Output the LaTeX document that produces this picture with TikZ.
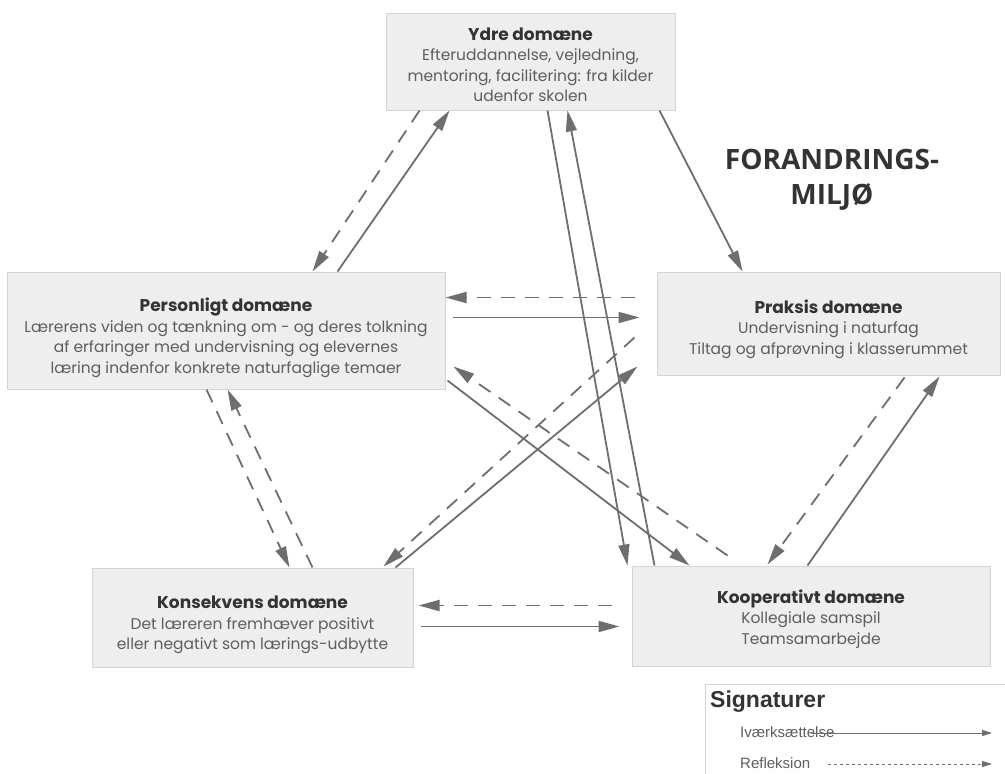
\documentclass[tikz,border=0pt]{standalone}
\usepackage{fontspec}
\setmainfont{Poppins}
\newfontfamily\legendfont{Liberation Sans}
\newfontfamily\bigtitlefont{Open Sans}
\usetikzlibrary{arrows.meta,calc}
\definecolor{boxfill}{HTML}{EEEEEE}
\definecolor{boxline}{HTML}{D4D4D4}
\definecolor{arr}{HTML}{6E6E6E}
\definecolor{ttl}{HTML}{333333}
\definecolor{bdy}{HTML}{5E5E5E}
\newcommand\domtitle[1]{{\fontsize{17}{20.5}\selectfont\bfseries\color{ttl}#1}}
\begin{document}
\begin{tikzpicture}[x=1pt,y=-1pt,
  dombox/.style={draw=boxline, fill=boxfill, line width=1pt, inner sep=0pt, anchor=center},
  domtext/.style={align=center, font=\fontsize{15.5}{20.5}\selectfont, text=bdy, inner sep=0pt},
  impl/.style={draw=arr, line width=1.8pt, -{Triangle[length=21pt,width=11pt]}},
  refl/.style={impl, dash pattern=on 14pt off 10pt},
  legline/.style={draw=arr, line width=1pt, -{Triangle[length=10pt,width=6pt]}},
]
\useasboundingbox (0,0) rectangle (1005,774);
\clip (0,0) rectangle (1005,774);

% domain boxes
\node[dombox, minimum width=289pt, minimum height=97pt] (ydre) at (530.5,61.5) {};
\node[dombox, minimum width=438pt, minimum height=117pt] (pers) at (226,330.5) {};
\node[dombox, minimum width=343pt, minimum height=103pt] (prak) at (828.5,323.5) {};
\node[dombox, minimum width=321pt, minimum height=99pt] (kons) at (252.5,617.5) {};
\node[dombox, minimum width=358pt, minimum height=100pt] (koop) at (811,616) {};

% texts
\node[domtext] (ydreT) at (530.5,65) {\domtitle{Ydre domæne}\\Efteruddannelse, vejledning,\\mentoring, facilitering: fra kilder\\udenfor skolen};
\node[domtext] (persT) at (226,338) {\domtitle{Personligt domæne}\\Lærerens viden og tænkning om - og deres tolkning\\af erfaringer med undervisning og elevernes\\læring indenfor konkrete naturfaglige temaer};
\node[domtext] (prakT) at (828.5,329) {\domtitle{Praksis domæne}\\Undervisning i naturfag\\Tiltag og afprøvning i klasserummet};
\node[domtext] (konsT) at (252.5,625) {\domtitle{Konsekvens domæne}\\Det læreren fremhæver positivt\\eller negativt som lærings-udbytte};
\node[domtext] (koopT) at (811,619) {\domtitle{Kooperativt domæne}\\Kollegiale samspil\\Teamsamarbejde};

% big title
\node[align=center, font=\bigtitlefont\bfseries\fontsize{28}{35}\selectfont, text=ttl, inner sep=0pt] (forandr) at (832,180) {FORANDRINGS-\\MILJØ};

% connectors
\draw[refl] ($(ydre.south west)+(34,0)$) -- ($(pers.north west)+(306,0)$);
\draw[impl] ($(pers.north west)+(331,0)$) -- ($(ydre.south west)+(64,0)$);
\draw[impl] ($(ydre.south west)+(162,0)$) -- ($(koop.north west)+(-4,0)$);
\draw[impl] ($(koop.north west)+(23,0)$) -- ($(ydre.south west)+(182,0)$);
\draw[impl] ($(ydre.south west)+(274,0)$) -- ($(prak.north west)+(86,0)$);
\draw[refl] ($(prak.north west)+(-22,26)$) -- ($(pers.north east)+(0,26)$);
\draw[impl] ($(pers.north east)+(7,46)$) -- ($(prak.north west)+(-17,46)$);
\draw[refl] ($(koop.north west)+(96,-10)$) -- ($(pers.north east)+(8,95)$);
\draw[impl] ($(pers.north east)+(2,109)$) -- ($(koop.north west)+(58,0)$);
\draw[refl] ($(prak.north west)+(-22,66)$) -- ($(kons.north east)+(-30,-1)$);
\draw[impl] ($(kons.north east)+(-18,0)$) -- ($(prak.north west)+(-19,95)$);
\draw[refl] ($(pers.south west)+(200,0)$) -- ($(kons.north west)+(198,0)$);
\draw[refl] ($(kons.north west)+(221,0)$) -- ($(pers.south west)+(221,0)$);
\draw[refl] ($(koop.north west)+(-20,40)$) -- ($(kons.north east)+(5,38)$);
\draw[impl] ($(kons.north east)+(7,59)$) -- ($(koop.north west)+(-12,61)$);
\draw[refl] ($(prak.south west)+(248,2)$) -- ($(koop.north west)+(136,-1)$);
\draw[impl] ($(koop.north west)+(176,0)$) -- ($(prak.south west)+(283,1)$);

% legend
\node[draw=boxline, fill=white, line width=1pt, minimum width=330pt, minimum height=110pt, anchor=north west, inner sep=0pt] (leg) at (705,684) {};
\node[anchor=west, font=\legendfont\bfseries\fontsize{23}{26}\selectfont, text=ttl, inner sep=0pt] (sig) at (710,702) {Signaturer};
\node[anchor=west, font=\legendfont\fontsize{15}{17}\selectfont, text=bdy, inner sep=0pt] (iv) at (740,732) {Iværksættelse};
\node[anchor=west, font=\legendfont\fontsize{15}{17}\selectfont, text=bdy, inner sep=0pt] (re) at (740,763) {Refleksion};
\coordinate (ivend) at (992,733);
\coordinate (reend) at (992,764);
\draw[legline] ($(iv.east)+(-24,1)$) -- (ivend);
\draw[legline, dash pattern=on 3pt off 3pt] ($(re.east)+(18,1)$) -- (reend);
\end{tikzpicture}
\end{document}
